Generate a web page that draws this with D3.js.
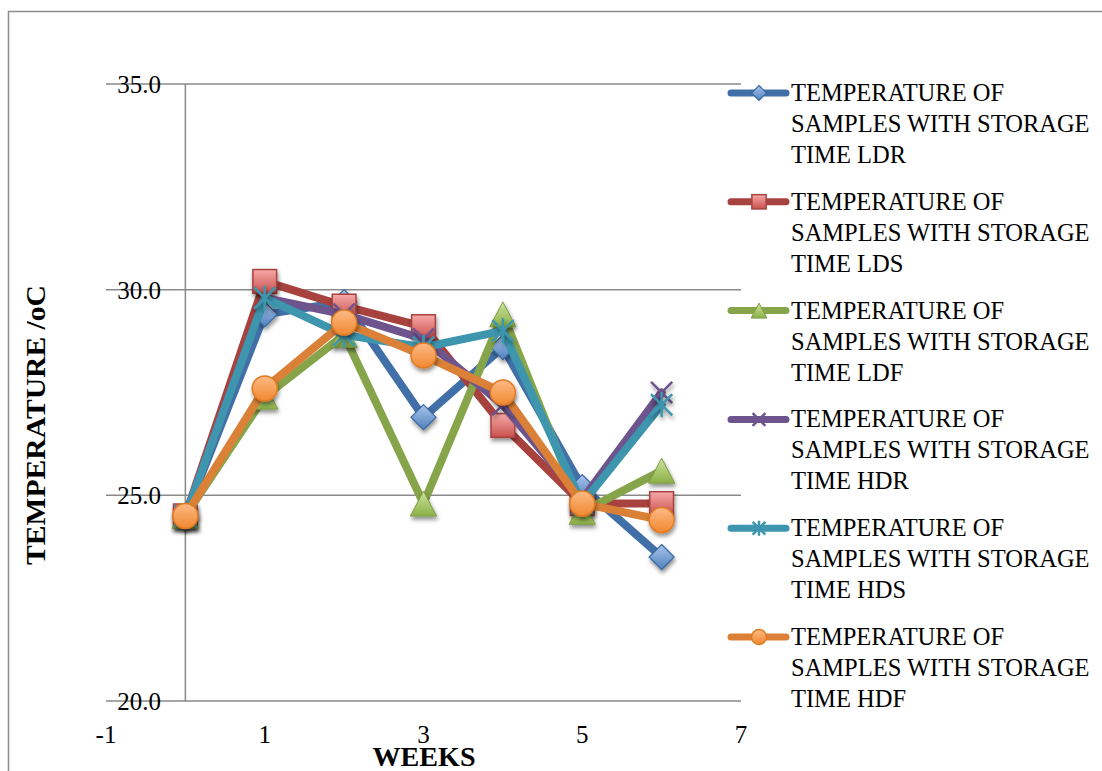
<!DOCTYPE html>
<html>
<head>
<meta charset="utf-8">
<script src="https://cdn.jsdelivr.net/npm/d3@7"></script>
<style>
  body { margin: 0; background: #fff; }
  svg { display: block; }
  text { font-family: "Liberation Serif", "Times New Roman", serif; fill: #000; }
</style>
</head>
<body>
<svg id="chart" width="1102" height="771"></svg>
<script>
const width = 1102;
const height = 771;

// data
const weeks = [0, 1, 2, 3, 4, 5, 6];
const ldr = [24.5, 29.4, 29.7, 26.9, 28.6, 25.2, 23.5];
const lds = [24.5, 30.2, 29.6, 29.1, 26.7, 24.8, 24.8];
const ldf = [24.5, 27.4, 28.9, 24.8, 29.4, 24.6, 25.6];
const hdr = [24.5, 29.8, 29.4, 28.8, 27.2, 24.9, 27.5];
const hds = [24.5, 29.8, 28.9, 28.6, 29.0, 24.8, 27.2];
const hdf = [24.5, 27.6, 29.2, 28.4, 27.5, 24.8, 24.4];

const seriesNames = [
  "TEMPERATURE OF SAMPLES WITH STORAGE TIME LDR",
  "TEMPERATURE OF SAMPLES WITH STORAGE TIME LDS",
  "TEMPERATURE OF SAMPLES WITH STORAGE TIME LDF",
  "TEMPERATURE OF SAMPLES WITH STORAGE TIME HDR",
  "TEMPERATURE OF SAMPLES WITH STORAGE TIME HDS",
  "TEMPERATURE OF SAMPLES WITH STORAGE TIME HDF"
];
const xTicks = [-1, 1, 3, 5, 7];
const yTicks = [20, 25, 30, 35];

const styles = [
  { line: "#4170A8", hi: "#A9C5EC", lo: "#4F81BD", edge: "#3A67A0", shape: "diamond" },
  { line: "#A8423F", hi: "#F6AAA8", lo: "#C9504D", edge: "#A8423F", shape: "square" },
  { line: "#86A44A", hi: "#CDE39A", lo: "#8BB048", edge: "#7E9C45", shape: "triangle" },
  { line: "#6E548D", hi: "#6E548D", lo: "#6E548D", edge: "#6E548D", shape: "x" },
  { line: "#3D96AE", hi: "#3D96AE", lo: "#3D96AE", edge: "#3D96AE", shape: "star" },
  { line: "#DA8137", hi: "#FDBA86", lo: "#F0882F", edge: "#E07A22", shape: "circle" }
];

const values = [ldr, lds, ldf, hdr, hds, hdf];
const series = values.map((v, i) => ({
  name: seriesNames[i],
  style: styles[i],
  points: weeks.map((w, j) => ({ week: w, temp: v[j] }))
}));

const svg = d3.select("#chart");
const defs = svg.append("defs");

series.forEach((s, i) => {
  const g = defs.append("linearGradient")
    .attr("id", "grad" + i)
    .attr("x1", 0).attr("y1", 0).attr("x2", 0).attr("y2", 1);
  g.append("stop").attr("offset", "0%").attr("stop-color", s.style.hi);
  g.append("stop").attr("offset", "100%").attr("stop-color", s.style.lo);
});

const shadow = defs.append("filter").attr("id", "shadow")
  .attr("x", "-50%").attr("y", "-50%").attr("width", "200%").attr("height", "200%");
shadow.append("feDropShadow")
  .attr("dx", 1).attr("dy", 3).attr("stdDeviation", 2)
  .attr("flood-color", "#000").attr("flood-opacity", 0.45);

// outer frame
svg.append("rect")
  .attr("x", 8.5).attr("y", 11.5)
  .attr("width", width + 10).attr("height", height + 10)
  .attr("fill", "none").attr("stroke", "#8c8c8c").attr("stroke-width", 1.5);

const x = d3.scaleLinear().domain([-1, 7]).range([106, 741]);
const y = d3.scaleLinear().domain([20, 35]).range([701, 84]);

// horizontal gridlines
svg.append("g")
  .selectAll("line")
  .data(yTicks)
  .join("line")
  .attr("x1", x(-1)).attr("x2", x(7))
  .attr("y1", d => y(d)).attr("y2", d => y(d))
  .attr("stroke", "#898989").attr("stroke-width", 1.5);

// vertical axis at week 0
svg.append("line")
  .attr("x1", x(0)).attr("x2", x(0))
  .attr("y1", y(35)).attr("y2", y(20))
  .attr("stroke", "#898989").attr("stroke-width", 1.5);

svg.append("g")
  .selectAll("text")
  .data(yTicks)
  .join("text")
  .attr("x", 161)
  .attr("y", d => y(d) + 9)
  .attr("text-anchor", "end")
  .attr("font-size", 25)
  .text(d => d3.format(".1f")(d));

svg.append("g")
  .selectAll("text")
  .data(xTicks)
  .join("text")
  .attr("x", d => x(d))
  .attr("y", 743)
  .attr("text-anchor", "middle")
  .attr("font-size", 25)
  .text(d => d);

// axis titles
svg.append("text")
  .attr("x", 424).attr("y", 766)
  .attr("text-anchor", "middle")
  .attr("font-size", 28)
  .attr("font-weight", "bold")
  .attr("textLength", 103)
  .attr("lengthAdjust", "spacingAndGlyphs")
  .text("WEEKS");

svg.append("text")
  .attr("transform", "translate(45,425) rotate(-90)")
  .attr("text-anchor", "middle")
  .attr("font-size", 28)
  .attr("font-weight", "bold")
  .attr("textLength", 280)
  .attr("lengthAdjust", "spacingAndGlyphs")
  .text("TEMPERATURE /oC");

function drawMarker(sel, st, idx, size) {
  const h = size / 2;
  if (st.shape === "diamond") {
    sel.append("path")
      .attr("d", `M0,${-h}L${h},0L0,${h}L${-h},0Z`)
      .attr("fill", `url(#grad${idx})`).attr("stroke", st.edge).attr("stroke-width", 1.2);
  } else if (st.shape === "square") {
    const s = h * 0.95;
    sel.append("rect")
      .attr("x", -s).attr("y", -s).attr("width", 2 * s).attr("height", 2 * s)
      .attr("fill", `url(#grad${idx})`).attr("stroke", st.edge).attr("stroke-width", 1.5);
  } else if (st.shape === "triangle") {
    sel.append("path")
      .attr("d", `M0,${-h}L${h * 1.05},${h}L${-h * 1.05},${h}Z`)
      .attr("fill", `url(#grad${idx})`).attr("stroke", st.edge).attr("stroke-width", 1);
  } else if (st.shape === "circle") {
    sel.append("circle")
      .attr("r", h)
      .attr("fill", `url(#grad${idx})`).attr("stroke", st.edge).attr("stroke-width", 1.5);
  } else if (st.shape === "x") {
    const k = h * 0.85;
    sel.append("path")
      .attr("d", `M${-k},${-k}L${k},${k}M${k},${-k}L${-k},${k}`)
      .attr("stroke", st.edge).attr("stroke-width", 2.5).attr("fill", "none");
  } else if (st.shape === "star") {
    const k = h * 0.85;
    sel.append("path")
      .attr("d", `M${-k},${-k}L${k},${k}M${k},${-k}L${-k},${k}M0,${-h}L0,${h}`)
      .attr("stroke", st.edge).attr("stroke-width", 2.5).attr("fill", "none");
  }
}

const line = d3.line()
  .x(d => x(d.week))
  .y(d => y(d.temp));

series.forEach((s, i) => {
  const g = svg.append("g");
  g.append("path")
    .datum(s.points)
    .attr("d", line)
    .attr("fill", "none")
    .attr("stroke", s.style.line)
    .attr("stroke-width", 8)
    .attr("stroke-linejoin", "round")
    .attr("stroke-linecap", "round");

  g.selectAll("g.pt")
    .data(s.points)
    .join("g")
    .attr("class", "pt")
    .attr("transform", d => `translate(${x(d.week)},${y(d.temp)})`)
    .attr("filter", "url(#shadow)")
    .each(function() { drawMarker(d3.select(this), s.style, i, 25); });
});

// legend
const legend = svg.append("g");
series.forEach((s, i) => {
  const ly = 93 + i * 108.8;
  const item = legend.append("g").attr("transform", `translate(0,${ly})`);
  item.append("line")
    .attr("x1", 731).attr("x2", 786)
    .attr("stroke", s.style.line)
    .attr("stroke-width", 7)
    .attr("stroke-linecap", "round");
  const m = item.append("g").attr("transform", "translate(759,0)");
  drawMarker(m, s.style, i, 15);

  const words = s.name.split(" ");
  const rows = [words.slice(0, 2).join(" "), words.slice(2, 5).join(" "), words.slice(5).join(" ")];
  item.selectAll("text")
    .data(rows)
    .join("text")
    .attr("x", 791)
    .attr("y", (d, j) => 8 + j * 31)
    .attr("font-size", 24.5)
    .text(d => d);
});
</script>
</body>
</html>
